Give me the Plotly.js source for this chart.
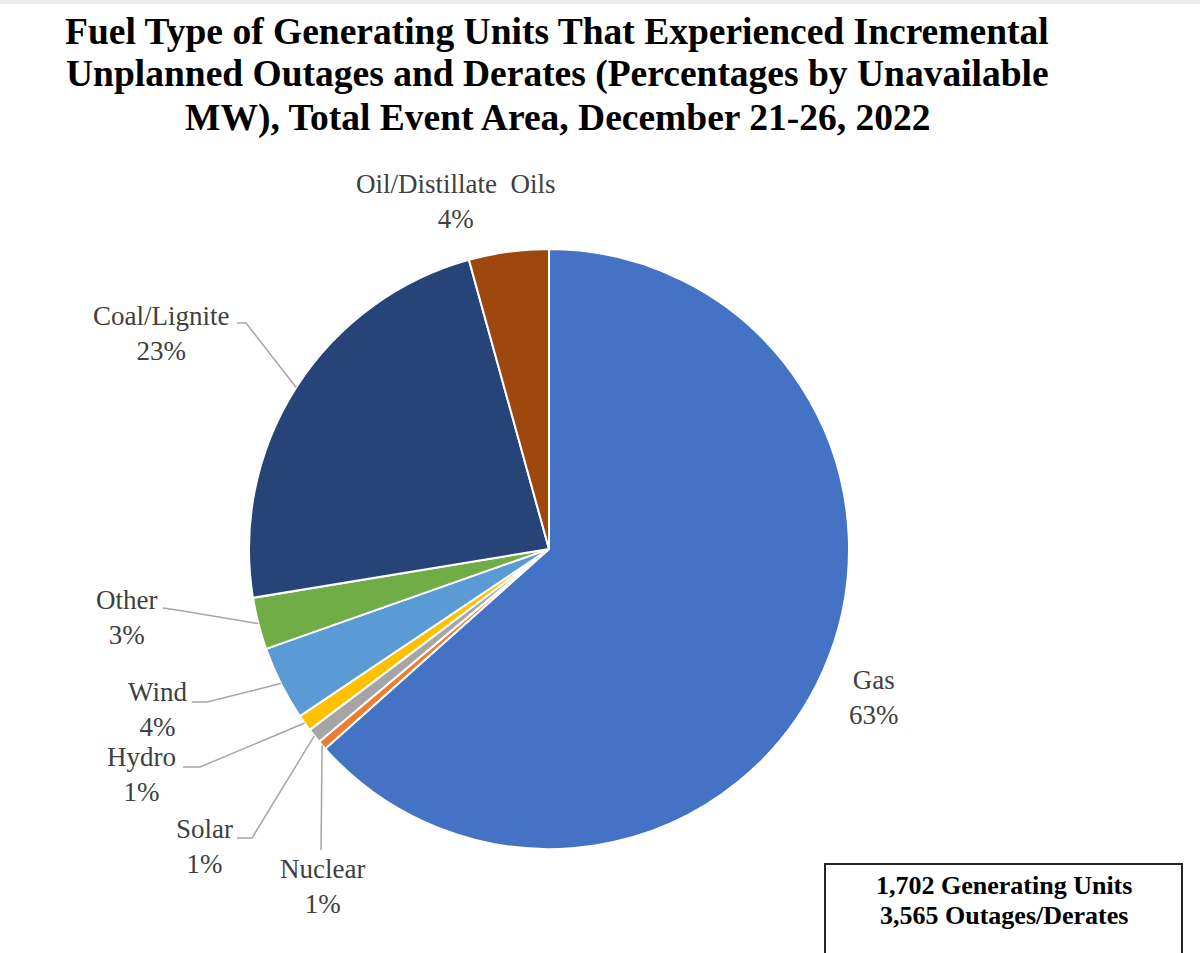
<!DOCTYPE html>
<html><head><meta charset="utf-8">
<script src="https://cdn.plot.ly/plotly-3.0.1.min.js"></script>
<style>html,body{margin:0;padding:0;background:#fff;}#chart{width:1200px;height:953px;}</style>
</head><body><div id="chart"></div>
<script>
// ---- data ----
const fuelTypes = ['Gas', 'Nuclear', 'Solar', 'Hydro', 'Wind', 'Other', 'Coal/Lignite', 'Oil/Distillate&nbsp; Oils'];
const sharePct = [63.4, 0.5, 0.8, 0.9, 4.0, 2.8, 23.3, 4.3];
const titleLines = [
  'Fuel Type of Generating Units That Experienced Incremental',
  'Unplanned Outages and Derates (Percentages by Unavailable',
  'MW), Total Event Area, December 21-26, 2022'
];
const noteLines = ['1,702 Generating Units', '3,565 Outages/Derates'];

// ---- styles / layout ----
const W = 1200, H = 953;
const sliceColors = ['#4472C4', '#ED7D31', '#A5A5A5', '#FFC000', '#5B9BD5', '#70AD47', '#264478', '#9E480E'];
const CX = 549, CY = 549, R = 300;
const FONT = '"Liberation Serif", "Times New Roman", serif';
const px = (x, y) => [x / W, 1 - y / H];

// label block centres (pixels) and elbow points for leader lines
const labelPos = [
  [874, 697], [322, 886], [204, 846], [141, 774], [157, 709], [126, 617], [161, 333], [456, 201]
];
const elbows = [
  null,
  [[321, 850]],
  [[252, 838], [237, 838]],
  [[200, 767], [183, 767]],
  [[207, 702], [192, 702]],
  [[177, 610], [163, 608]],
  [[246, 323], [237, 323]],
  null
];

const total = sharePct.reduce((a, b) => a + b, 0);
let cum = 0;
const midAngles = sharePct.map(v => { const m = (cum + v / 2) / total * 2 * Math.PI; cum += v; return m; });

const annotations = [];
titleLines.forEach((t, i) => annotations.push({
  text: t, xref: 'paper', yref: 'paper', x: px(557, 0)[0], y: px(0, 31 + i * 43.5)[1],
  xanchor: 'center', yanchor: 'middle', showarrow: false,
  font: {family: FONT, size: 37.5, color: '#000000', weight: 'bold'}
}));
fuelTypes.forEach((name, i) => {
  const p = px(labelPos[i][0], labelPos[i][1]);
  annotations.push({
    text: name + '<br>' + Math.round(sharePct[i] / total * 100) + '%',
    xref: 'paper', yref: 'paper', x: p[0], y: p[1], xanchor: 'center', yanchor: 'middle',
    showarrow: false, align: 'center',
    font: {family: FONT, size: 27, color: '#404040'}
  });
});
noteLines.forEach((t, i) => annotations.push({
  text: t, xref: 'paper', yref: 'paper', x: px(1004, 0)[0], y: px(0, 885 + i * 30)[1],
  xanchor: 'center', yanchor: 'middle', showarrow: false,
  font: {family: FONT, size: 26, color: '#000000', weight: 'bold'}
}));

const shapes = [];
elbows.forEach((pts, i) => {
  if (!pts) return;
  const a = midAngles[i];
  const ex = CX + R * Math.sin(a), ey = CY - R * Math.cos(a);
  const all = [[ex, ey]].concat(pts).map(q => px(q[0], q[1]));
  shapes.push({
    type: 'path', xref: 'paper', yref: 'paper',
    path: 'M' + all.map(q => q[0] + ',' + q[1]).join(' L'),
    line: {color: '#A6A6A6', width: 1.5}
  });
});
// note box
const b0 = px(825, 864), b1 = px(1182, 970);
shapes.push({type: 'rect', xref: 'paper', yref: 'paper', x0: b0[0], y0: b1[1], x1: b1[0], y1: b0[1],
  line: {color: '#262626', width: 2}, fillcolor: 'rgba(0,0,0,0)'});
// faint page edge at top
shapes.push({type: 'rect', xref: 'paper', yref: 'paper', x0: 0, x1: 1, y0: px(0, 4)[1], y1: 1,
  line: {width: 0}, fillcolor: '#ececec'});

const trace = {
  type: 'pie', values: sharePct, labels: fuelTypes, sort: false, direction: 'clockwise', rotation: 0,
  marker: {colors: sliceColors, line: {color: '#ffffff', width: 2}},
  textinfo: 'none', hoverinfo: 'skip', showlegend: false,
  domain: {x: [(CX - R) / W, (CX + R) / W], y: [1 - (CY + R) / H, 1 - (CY - R) / H]}
};

Plotly.newPlot('chart', [trace], {
  width: W, height: H, margin: {l: 0, r: 0, t: 0, b: 0},
  paper_bgcolor: '#ffffff', showlegend: false, annotations, shapes
}, {staticPlot: true});
</script></body></html>
